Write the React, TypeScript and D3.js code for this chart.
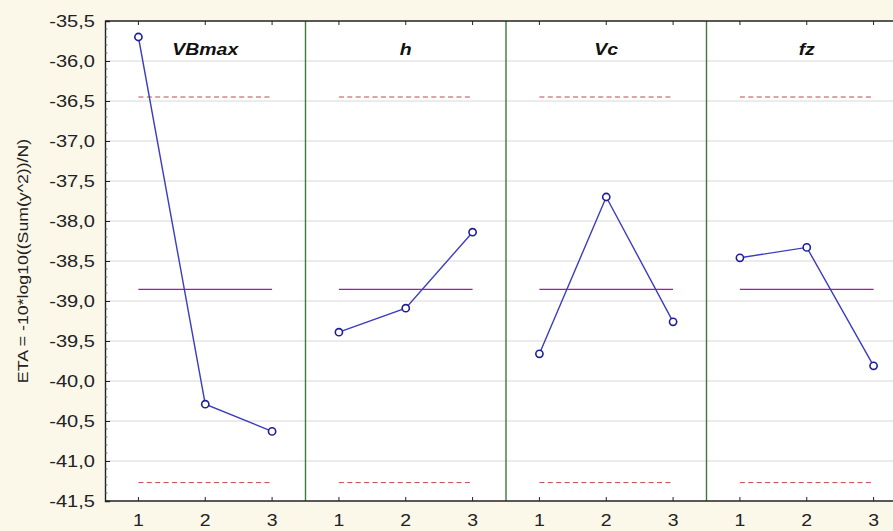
import React, { useEffect, useRef } from "react";
import * as d3 from "d3";

const factors = ["VBmax", "h", "Vc", "fz"];
const levels = [1, 2, 3];
const etaVBmax = [-35.7, -40.29, -40.63];
const etaH = [-39.39, -39.09, -38.14];
const etaVc = [-39.66, -37.7, -39.26];
const etaFz = [-38.46, -38.33, -39.81];
const meanEta = -38.855;
const upperLimit = -36.45;
const lowerLimit = -41.27;
const yTicks = [-41.5, -41, -40.5, -40, -39.5, -39, -38.5, -38, -37.5, -37, -36.5, -36, -35.5];

const FONT = "Liberation Sans, Arial, sans-serif";

const App = () => {
  const ref = useRef<SVGSVGElement>(null);
  const width = 893;
  const height = 531;

  useEffect(() => {
    document.body.style.margin = "0";
    const svg = d3.select(ref.current);
    svg.selectAll("*").remove();

    const margin = { top: 21, left: 105, bottom: 30 };
    const panelW = 200.5;
    const plotBottom = height - margin.bottom;
    const stretch = 1.18;

    const y = d3.scaleLinear().domain([-41.5, -35.5]).range([plotBottom, margin.top]);
    const series = [etaVBmax, etaH, etaVc, etaFz];
    const fmt = (v: number) => d3.format(".1f")(v).replace(".", ",").replace("−", "-");

    svg.append("rect").attr("width", width).attr("height", height).attr("fill", "#fbf8ea");
    svg.append("rect")
      .attr("x", margin.left).attr("y", margin.top)
      .attr("width", panelW * 4).attr("height", plotBottom - margin.top)
      .attr("fill", "#ffffff");

    // horizontal grid
    svg.append("g").selectAll("line")
      .data(yTicks.slice(1, -1))
      .enter().append("line")
      .attr("x1", margin.left).attr("x2", margin.left + panelW * 4)
      .attr("y1", d => y(d)).attr("y2", d => y(d))
      .attr("stroke", "#d8d8d8").attr("stroke-width", 1);

    factors.forEach((name, i) => {
      const x = d3.scaleLinear().domain([0.5, 3.5]).range([margin.left + i * panelW, margin.left + (i + 1) * panelW]);
      const g = svg.append("g");

      // limit lines
      [upperLimit, lowerLimit].forEach(v => {
        g.append("line")
          .attr("x1", x(1)).attr("x2", x(3))
          .attr("y1", y(v)).attr("y2", y(v))
          .attr("stroke", "#c0464e").attr("stroke-width", 1)
          .attr("stroke-dasharray", "5,3.4");
      });
      g.append("line")
        .attr("x1", x(1)).attr("x2", x(3))
        .attr("y1", y(meanEta)).attr("y2", y(meanEta))
        .attr("stroke", "#b010b8").attr("stroke-width", 1.4);

      const pts = levels.map((l, k) => [l, series[i][k]] as [number, number]);
      const line = d3.line<[number, number]>().x(d => x(d[0])).y(d => y(d[1]));
      g.append("path").attr("d", line(pts)).attr("fill", "none")
        .attr("stroke", "#3c3cc0").attr("stroke-width", 1.4);
      g.selectAll("circle").data(pts).enter().append("circle")
        .attr("cx", d => x(d[0])).attr("cy", d => y(d[1])).attr("r", 3.6)
        .attr("fill", "#ffffff").attr("stroke", "#1e1e9a").attr("stroke-width", 1.6);

      g.append("text")
        .attr("transform", `translate(${x(2)},55) scale(${stretch},1)`)
        .attr("text-anchor", "middle")
        .attr("font-family", FONT)
        .attr("font-size", 16.5).attr("font-weight", "bold").attr("font-style", "italic")
        .attr("fill", "#111").text(name);

      // top and bottom ticks
      levels.forEach(l => {
        g.append("line").attr("x1", x(l)).attr("x2", x(l))
          .attr("y1", margin.top).attr("y2", margin.top + 4).attr("stroke", "#222");
        g.append("line").attr("x1", x(l)).attr("x2", x(l))
          .attr("y1", plotBottom).attr("y2", plotBottom - 4).attr("stroke", "#222");
        g.append("text")
          .attr("transform", `translate(${x(l)},526) scale(${stretch},1)`)
          .attr("text-anchor", "middle")
          .attr("font-family", FONT)
          .attr("font-size", 16.5).attr("fill", "#222").text(String(l));
      });

      if (i > 0) {
        svg.append("line")
          .attr("x1", x(0.5)).attr("x2", x(0.5))
          .attr("y1", margin.top).attr("y2", plotBottom)
          .attr("stroke", "#3b7a3b").attr("stroke-width", 1.4);
      }
    });

    // frame
    svg.append("line").attr("x1", margin.left).attr("x2", margin.left + panelW * 4)
      .attr("y1", margin.top).attr("y2", margin.top).attr("stroke", "#222").attr("stroke-width", 1.4);
    svg.append("line").attr("x1", margin.left).attr("x2", margin.left + panelW * 4)
      .attr("y1", plotBottom).attr("y2", plotBottom).attr("stroke", "#222").attr("stroke-width", 1.4);

    // y axis
    const yAxis = d3.axisLeft(y).tickValues(yTicks).tickSize(-5).tickFormat(() => "");
    const ya = svg.append("g").attr("transform", `translate(${margin.left},0)`).call(yAxis);
    ya.select(".domain").attr("stroke", "#222").attr("stroke-width", 1.4);
    ya.selectAll(".tick line").attr("stroke", "#222");

    svg.append("g").selectAll("text").data(yTicks).enter().append("text")
      .attr("transform", d => `translate(95,${y(d)}) scale(${stretch},1)`)
      .attr("dy", "0.36em")
      .attr("text-anchor", "end")
      .attr("font-family", FONT)
      .attr("font-size", 17).attr("fill", "#222")
      .text(d => fmt(d));

    const minor = d3.range(-41.4, -35.5, 0.1).filter(v => Math.abs(v * 2 - Math.round(v * 2)) > 0.01);
    svg.append("g").selectAll("line").data(minor).enter().append("line")
      .attr("x1", margin.left).attr("x2", margin.left + 2.5)
      .attr("y1", d => y(d)).attr("y2", d => y(d))
      .attr("stroke", "#555").attr("stroke-width", 0.8);

    svg.append("text")
      .attr("transform", `translate(28,${(margin.top + plotBottom) / 2}) rotate(-90) scale(${stretch},1)`)
      .attr("text-anchor", "middle")
      .attr("font-family", FONT)
      .attr("font-size", 15).attr("fill", "#222")
      .text("ETA = -10*log10((Sum(y^2))/N)");
  }, []);

  return <svg ref={ref} width={width} height={height} style={{ display: "block" }} />;
};

export default App;
